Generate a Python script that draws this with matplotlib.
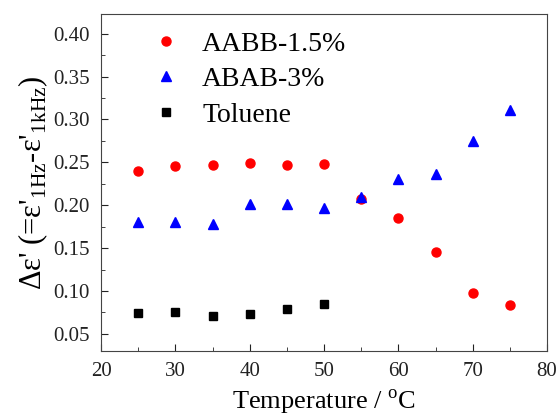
import matplotlib
matplotlib.use('Agg')
import matplotlib.pyplot as plt
from matplotlib.ticker import MultipleLocator

plt.rcParams['font.family'] = ['Liberation Serif', 'DejaVu Serif']
plt.rcParams['mathtext.fontset'] = 'custom'
plt.rcParams['mathtext.rm'] = 'Liberation Serif'

temp_aabb = [25, 30, 35, 40, 45, 50, 55, 60, 65, 70, 75]
aabb = [0.240, 0.246, 0.247, 0.249, 0.247, 0.248, 0.207, 0.185, 0.145, 0.098, 0.084]

temp_abab = [25, 30, 35, 40, 45, 50, 55, 60, 65, 70, 75]
abab = [0.180, 0.180, 0.178, 0.202, 0.202, 0.197, 0.210, 0.230, 0.236, 0.275, 0.311]

temp_tol = [25, 30, 35, 40, 45, 50]
toluene = [0.074, 0.076, 0.071, 0.073, 0.079, 0.085]

fig = plt.figure(figsize=(5.6, 4.16), dpi=100)
ax = fig.add_axes([101/560, 1 - 351/416, (547-101)/560, (351-14)/416])

ax.plot(temp_aabb, aabb, 'o', color='red', markersize=6.5, label='AABB-1.5%', linestyle='none')
ax.plot(temp_abab, abab, '^', color='blue', markersize=7, label='ABAB-3%', linestyle='none')
ax.plot(temp_tol, toluene, 's', color='black', markersize=6, label='Toluene', linestyle='none')

ax.set_xlim(20, 80)
ax.set_ylim(0.03, 0.423)
ax.xaxis.set_major_locator(MultipleLocator(10))
ax.xaxis.set_minor_locator(MultipleLocator(5))
ax.yaxis.set_major_locator(MultipleLocator(0.05))
ax.yaxis.set_minor_locator(MultipleLocator(0.025))
ax.yaxis.set_major_formatter(plt.FormatStrFormatter('%.2f'))
ax.tick_params(which='both', direction='in', labelsize=15, colors='#222222')
ax.tick_params(which='major', length=5, pad=8)
ax.tick_params(which='minor', length=3)
for s in ax.spines.values():
    s.set_color('#444444')

ax.set_xlabel('Temperature / $^{\\rm o}$C', fontsize=19, labelpad=5)
ax.set_ylabel("Δε' (=ε'$_{\\rm 1Hz}$-ε'$_{\\rm 1kHz}$)", fontsize=22, labelpad=2)

ax.legend(loc='upper left', frameon=False, fontsize=20, handletextpad=0.5,
          borderaxespad=0.1, labelspacing=0.36, handlelength=1.6,
          bbox_to_anchor=(0.065, 0.99))

fig.savefig('out.png', dpi=100)
